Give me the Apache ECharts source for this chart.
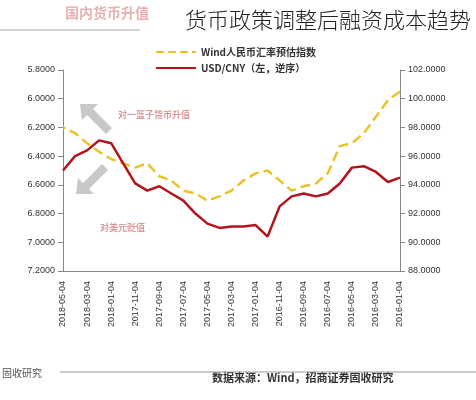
<!DOCTYPE html><html><head><meta charset="utf-8">
<script src="https://cdn.jsdelivr.net/npm/echarts@6/dist/echarts.min.js"></script>
<style>body{margin:0;background:#fff}#c{width:476px;height:400px}</style></head><body><div id="c"></div>
<script>
const months=['2016-01-04','2016-02-04','2016-03-04','2016-04-04','2016-05-04','2016-06-04','2016-07-04','2016-08-04','2016-09-04','2016-10-04','2016-11-04','2016-12-04','2017-01-04','2017-02-04','2017-03-04','2017-04-04','2017-05-04','2017-06-04','2017-07-04','2017-08-04','2017-09-04','2017-10-04','2017-11-04','2017-12-04','2018-01-04','2018-02-04','2018-03-04','2018-04-04','2018-05-04'];
const usdcny=[6.55,6.58,6.51,6.47,6.48,6.59,6.66,6.68,6.66,6.68,6.75,6.96,6.88,6.89,6.89,6.90,6.87,6.80,6.71,6.66,6.61,6.64,6.59,6.45,6.31,6.29,6.36,6.40,6.50];
const windIdx=[100.5,99.9,98.75,97.6,96.9,96.7,94.8,94.1,93.9,93.6,94.3,95.0,94.8,94.3,93.6,93.2,92.9,93.4,93.6,94.3,94.6,95.5,95.2,95.5,95.8,96.3,96.9,97.6,98.0];
const c=echarts.init(document.getElementById('c'));
const F='"Noto Sans CJK SC",sans-serif';
c.setOption({
 animation:false,
 title:{text:'货币政策调整后融资成本趋势',right:0,top:4,textStyle:{fontFamily:F,fontSize:22,fontWeight:300,color:'#222'}},
 legend:{orient:'vertical',left:150,top:42,itemGap:6,itemWidth:40,itemHeight:8,itemStyle:{opacity:0},textStyle:{fontFamily:F,fontSize:10,fontWeight:'bold',color:'#333'},
  data:['Wind人民币汇率预估指数','USD/CNY（左，逆序）']},
 grid:{left:63,right:76,top:70,bottom:129},
 xAxis:{type:'category',data:months,inverse:true,boundaryGap:false,
  axisLine:{lineStyle:{color:'#888'}},axisTick:{show:false},
  axisLabel:{rotate:90,interval:1,fontSize:9,color:'#333',margin:10}},
 yAxis:[
  {type:'value',min:5.8,max:7.2,interval:0.2,inverse:true,splitLine:{show:false},axisLine:{show:true,lineStyle:{color:'#888'}},axisTick:{show:true},
   axisLabel:{formatter:v=>v.toFixed(4),fontSize:9,color:'#333'}},
  {type:'value',min:88,max:102,interval:2,splitLine:{show:false},axisLine:{show:true,lineStyle:{color:'#888'}},axisTick:{show:true},
   axisLabel:{formatter:v=>v.toFixed(4),fontSize:9,color:'#333'}}],
 series:[
  {name:'Wind人民币汇率预估指数',type:'line',yAxisIndex:1,data:windIdx,symbol:'none',lineStyle:{color:'#e8c42a',width:2.5,type:'dashed'},itemStyle:{color:'#e8c42a'}},
  {name:'USD/CNY（左，逆序）',type:'line',yAxisIndex:0,data:usdcny,symbol:'none',lineStyle:{color:'#b3141c',width:2.5},itemStyle:{color:'#b3141c'}}],
 graphic:[
  {type:'line',shape:{x1:0,y1:30,x2:140,y2:30},style:{stroke:'#aaa',lineWidth:1}},
  {type:'text',left:65,top:6,style:{text:'国内货币升值',fill:'#e8b0b0',font:'bold 14px '+F}},
  {type:'text',left:118,top:110,style:{text:'对一篮子货币升值',fill:'#d99',font:'bold 9px '+F}},
  {type:'text',left:100,top:223,style:{text:'对美元贬值',fill:'#d99',font:'bold 9px '+F}},
  {type:'polygon',shape:{points:[[80,104],[98,104],[93,109],[112,128],[106,134],[87,115],[82,120]]},style:{fill:'#c8c8c8'}},
  {type:'polygon',shape:{points:[[76,194],[94,194],[89,189],[108,170],[102,164],[83,183],[78,178]]},style:{fill:'#c8c8c8'}},
  {type:'text',left:212,top:372,style:{text:'数据来源：Wind，招商证券固收研究',fill:'#333',font:'bold 11px '+F}},
  {type:'line',shape:{x1:60,y1:372,x2:476,y2:372},style:{stroke:'#999',lineWidth:1}},
  {type:'text',left:2,top:368,style:{text:'固收研究',fill:'#555',font:'10px '+F}}
 ]
});
</script></body></html>
